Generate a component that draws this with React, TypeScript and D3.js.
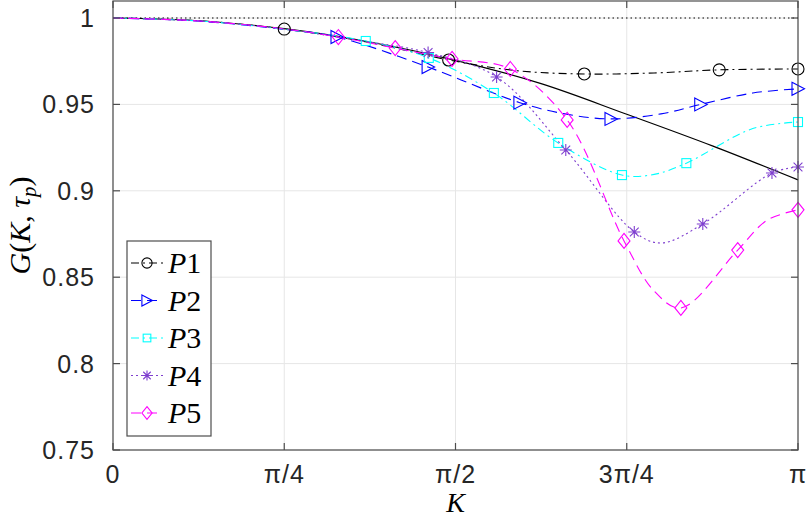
import React from 'react';
import * as d3 from 'd3';

const kTicks = [0, 0.25, 0.5, 0.75, 1];
const kTickLabels = ['0', 'π/4', 'π/2', '3π/4', 'π'];
const gTicks = [0.75, 0.8, 0.85, 0.9, 0.95, 1];
const gTickLabels = ['0.75', '0.8', '0.85', '0.9', '0.95', '1'];

// reference curve (solid black) and the flat dotted line at 1
const refK = [0, 0.125, 0.25, 0.375, 0.5, 0.625, 0.75, 0.875, 1];
const refG = [1, 0.9984, 0.9938, 0.9861, 0.9755, 0.962, 0.9443, 0.926, 0.9063];
const flatK = [0, 1];
const flatG = [1, 1];

const p1K = [0, 0.125, 0.25, 0.375, 0.49, 0.59, 0.688, 0.79, 0.885, 1];
const p1G = [1, 0.9984, 0.9936, 0.9858, 0.9757, 0.9695, 0.9676, 0.9682, 0.97, 0.9705];
const p1Marks = [2, 4, 6, 8, 9];

const p2K = [0, 0.125, 0.25, 0.327, 0.46, 0.594, 0.66, 0.727, 0.8, 0.858, 0.934, 1];
const p2G = [1, 0.9982, 0.9934, 0.989, 0.9716, 0.951, 0.9445, 0.9416, 0.9445, 0.95, 0.9566, 0.959];
const p2Marks = [3, 4, 5, 7, 9, 11];

const p3K = [0, 0.125, 0.25, 0.369, 0.461, 0.556, 0.65, 0.743, 0.79, 0.837, 0.934, 1];
const p3G = [1, 0.9983, 0.9935, 0.9867, 0.9769, 0.9566, 0.9277, 0.9091, 0.9095, 0.916, 0.936, 0.9398];
const p3Marks = [3, 4, 5, 6, 7, 9, 11];

const p4K = [0, 0.125, 0.25, 0.36, 0.46, 0.56, 0.661, 0.761, 0.8, 0.861, 0.962, 1];
const p4G = [1, 0.9983, 0.9936, 0.987, 0.98, 0.9659, 0.9236, 0.8762, 0.8698, 0.8808, 0.9103, 0.9138];
const p4Marks = [4, 5, 6, 7, 9, 10, 11];

const p5K = [0, 0.125, 0.25, 0.329, 0.412, 0.495, 0.58, 0.663, 0.746, 0.79, 0.829, 0.912, 0.955, 1];
const p5G = [1, 0.9983, 0.9937, 0.989, 0.9826, 0.9763, 0.9705, 0.941, 0.871, 0.842, 0.8322, 0.8657, 0.883, 0.889];
const p5Marks = [3, 4, 5, 6, 7, 8, 10, 11, 13];

const seriesNames = ['1', '2', '3', '4', '5'];
const seriesColors = ['#000000', '#0000ff', '#00ffff', '#7f3fcf', '#ff00ff'];
const seriesDash = ['8,4,2,4', '10,6', '8,4,2,4', '2,3', '10,6'];
const seriesSymbols = ['circle', 'triangle', 'square', 'star', 'diamond'];

const W = 810;
const H = 522;
const plot = { left: 113, right: 798, top: 1, bottom: 450 };
const mathFont = '"Liberation Serif", "DejaVu Serif", serif';
const tickFont = '"Liberation Sans", Arial, sans-serif';

const Marker: React.FC<{ kind: string; x: number; y: number; color: string; s?: number }> = ({ kind, x, y, color, s = 1 }) => {
  const common = { fill: 'none', stroke: color, strokeWidth: 1.1 };
  if (kind === 'circle') return <circle cx={x} cy={y} r={6 * s} {...common} />;
  if (kind === 'square') return <rect x={x - 4.5 * s} y={y - 4.5 * s} width={9 * s} height={9 * s} {...common} />;
  if (kind === 'triangle') {
    const p = [[-6, -6.5], [6.5, 0], [-6, 6.5]].map(([a, b]) => `${x + a * s},${y + b * s}`).join(' ');
    return <polygon points={p} {...common} />;
  }
  if (kind === 'diamond') {
    const p = [[0, -7.5], [6, 0], [0, 7.5], [-6, 0]].map(([a, b]) => `${x + a * s},${y + b * s}`).join(' ');
    return <polygon points={p} {...common} />;
  }
  // asterisk: plus and cross
  const r = 6 * s;
  const d = 4.4 * s;
  return (
    <path
      d={`M${x - r},${y}H${x + r}M${x},${y - r}V${y + r}M${x - d},${y - d}L${x + d},${y + d}M${x - d},${y + d}L${x + d},${y - d}`}
      {...common}
    />
  );
};

export default function App() {
  const x = d3.scaleLinear().domain([0, Math.PI]).range([plot.left, plot.right]);
  const y = d3.scaleLinear().domain([0.75, 1.00984]).range([plot.bottom, plot.top]);

  const line = d3
    .line<[number, number]>()
    .x(d => x(d[0] * Math.PI))
    .y(d => y(d[1]))
    .curve(d3.curveCatmullRom.alpha(0.5));

  const zip = (ks: number[], gs: number[]) => ks.map((k, i) => [k, gs[i]] as [number, number]);

  const series = [
    { pts: zip(p1K, p1G), marks: p1Marks },
    { pts: zip(p2K, p2G), marks: p2Marks },
    { pts: zip(p3K, p3G), marks: p3Marks },
    { pts: zip(p4K, p4G), marks: p4Marks },
    { pts: zip(p5K, p5G), marks: p5Marks },
  ];

  const legend = { x: 127, y: 241, w: 84, h: 195, row: 37.5 };

  return (
    <svg width={W} height={H} style={{ position: 'absolute', left: 0, top: 0, background: '#fff' }}>
      <rect x={0} y={0} width={W} height={H} fill="#fff" />

      {/* grid */}
      <g stroke="#e6e6e6" strokeWidth={1}>
        {kTicks.map(k => (
          <line key={`gx${k}`} x1={x(k * Math.PI)} x2={x(k * Math.PI)} y1={plot.top} y2={plot.bottom} />
        ))}
        {gTicks.map(g => (
          <line key={`gy${g}`} x1={plot.left} x2={plot.right} y1={y(g)} y2={y(g)} />
        ))}
      </g>

      {/* curves */}
      <path d={line(zip(flatK, flatG)) || ''} fill="none" stroke="#000" strokeWidth={1} strokeDasharray="1.5,3" />
      <path d={line(zip(refK, refG)) || ''} fill="none" stroke="#000" strokeWidth={1.2} />
      {series.map((s, i) => (
        <path
          key={`l${i}`}
          d={line(s.pts) || ''}
          fill="none"
          stroke={seriesColors[i]}
          strokeWidth={1.1}
          strokeDasharray={seriesDash[i]}
        />
      ))}
      {series.map((s, i) =>
        s.marks.map(m => (
          <Marker
            key={`m${i}-${m}`}
            kind={seriesSymbols[i]}
            x={x(s.pts[m][0] * Math.PI)}
            y={y(s.pts[m][1])}
            color={seriesColors[i]}
          />
        ))
      )}

      {/* axes box and ticks */}
      <rect
        x={plot.left}
        y={plot.top}
        width={plot.right - plot.left}
        height={plot.bottom - plot.top}
        fill="none"
        stroke="#4d4d4d"
        strokeWidth={1.2}
      />
      <g stroke="#4d4d4d" strokeWidth={1.2}>
        {kTicks.map(k => (
          <g key={`tx${k}`}>
            <line x1={x(k * Math.PI)} x2={x(k * Math.PI)} y1={plot.bottom} y2={plot.bottom - 7} />
            <line x1={x(k * Math.PI)} x2={x(k * Math.PI)} y1={plot.top} y2={plot.top + 7} />
          </g>
        ))}
        {gTicks.map(g => (
          <g key={`ty${g}`}>
            <line x1={plot.left} x2={plot.left + 7} y1={y(g)} y2={y(g)} />
            <line x1={plot.right} x2={plot.right - 7} y1={y(g)} y2={y(g)} />
          </g>
        ))}
      </g>

      {/* tick labels */}
      <g fontFamily={tickFont} fontSize={25} fill="#262626" letterSpacing={1}>
        {kTicks.map((k, i) => (
          <text key={`lx${k}`} x={x(k * Math.PI)} y={483} textAnchor="middle">
            {kTickLabels[i]}
          </text>
        ))}
        {gTicks.map((g, i) => (
          <text key={`ly${g}`} x={95} y={y(g)} dy="0.36em" textAnchor="end">
            {gTickLabels[i]}
          </text>
        ))}
      </g>

      {/* axis labels */}
      <text x={x(Math.PI / 2)} y={512} textAnchor="middle" fontFamily={mathFont} fontSize={28} fontStyle="italic">
        K
      </text>
      <text
        transform={`translate(30,${(plot.top + plot.bottom) / 2}) rotate(-90)`}
        textAnchor="middle"
        fontFamily={mathFont}
        fontSize={30}
      >
        <tspan fontStyle="italic">G</tspan>
        <tspan>(</tspan>
        <tspan fontStyle="italic">K</tspan>
        <tspan>, </tspan>
        <tspan fontStyle="italic">τ</tspan>
        <tspan fontStyle="italic" fontSize={21} dy={6}>p</tspan>
        <tspan dy={-6}>)</tspan>
      </text>

      {/* legend */}
      <rect x={legend.x} y={legend.y} width={legend.w} height={legend.h} fill="#fff" stroke="#4d4d4d" strokeWidth={1.2} />
      {seriesNames.map((name, i) => {
        const ly = legend.y + 22 + i * legend.row;
        return (
          <g key={`lg${i}`}>
            <line
              x1={131}
              x2={163}
              y1={ly}
              y2={ly}
              stroke={seriesColors[i]}
              strokeWidth={1.1}
              strokeDasharray={seriesDash[i]}
            />
            <Marker kind={seriesSymbols[i]} x={147} y={ly} color={seriesColors[i]} s={0.85} />
            <text x={168} y={ly} dy="0.34em" fontFamily={mathFont} fontSize={30}>
              <tspan fontStyle="italic">P</tspan>
              <tspan>{name}</tspan>
            </text>
          </g>
        );
      })}
    </svg>
  );
}
